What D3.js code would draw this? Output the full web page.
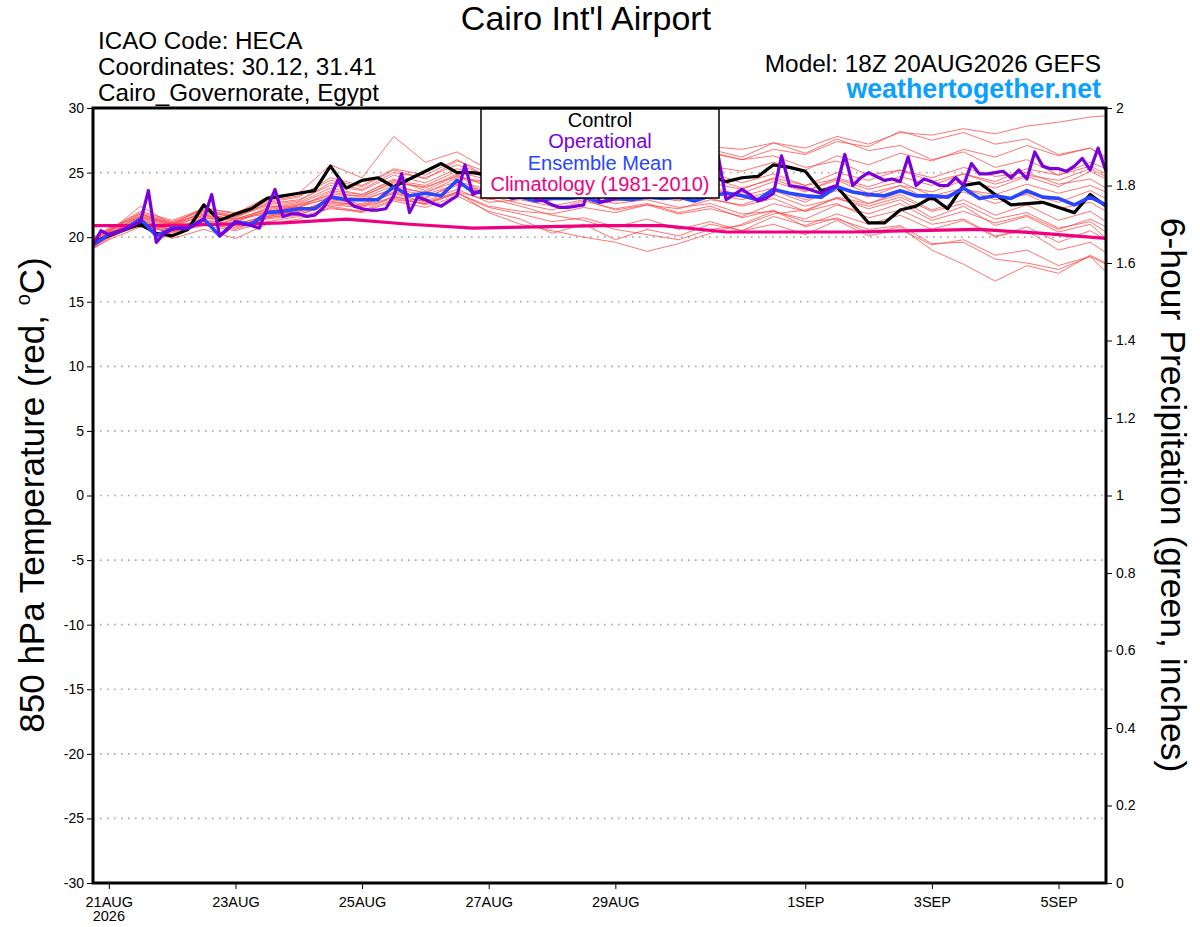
<!DOCTYPE html>
<html>
<head>
<meta charset="utf-8">
<script src="https://cdn.jsdelivr.net/npm/d3@7"></script>
<style>
  body { margin: 0; background: #fff; }
  svg { display: block; font-family: "Liberation Sans", Arial, Helvetica, sans-serif; }
</style>
</head>
<body>
<svg id="chart" width="1200" height="927"></svg>
<script>
// model run start, 18Z 20AUG2026; every step below is 6 hours after it
var runStart = Date.UTC(2026, 7, 20, 18);

var dateTicks = ["2026-08-21", "2026-08-23", "2026-08-25", "2026-08-27", "2026-08-29", "2026-09-01", "2026-09-03", "2026-09-05"];
var dateTickLabels = ["21AUG", "23AUG", "25AUG", "27AUG", "29AUG", "1SEP", "3SEP", "5SEP"];
var tempTicks = [-30, -25, -20, -15, -10, -5, 0, 5, 10, 15, 20, 25, 30];
var gridTemps = [-25, -20, -15, -10, -5, 0, 5, 10, 15, 20, 25];
var precipTicks = [0, 0.2, 0.4, 0.6, 0.8, 1, 1.2, 1.4, 1.6, 1.8, 2];

var legendNames = ["Control", "Operational", "Ensemble Mean", "Climatology (1981-2010)"];

// control run, 6-hourly
var controlTemp = [19.6, 20.1, 20.6, 21.0, 20.3, 20.1, 20.6, 22.5, 21.3, 21.8, 22.2, 23.0, 23.2, 23.4, 23.6, 25.5,
  23.8, 24.4, 24.6, 23.9, 24.5, 25.1, 25.7, 25.0, 25.0, 24.8, 25.2, 25.6, 24.9, 24.6, 24.3, 25.0,
  24.7, 24.4, 24.1, 24.8, 24.5, 24.9, 24.6, 24.8, 24.3, 24.6, 24.7, 25.6, 25.4, 25.1, 23.6, 23.9,
  22.5, 21.1, 21.1, 22.1, 22.4, 23.1, 22.2, 24.0, 24.2, 23.3, 22.5, 22.6, 22.7, 22.3, 21.9, 23.3, 22.4];

// ensemble mean, 6-hourly
var meanTemp = [19.4, 20.2, 20.6, 21.4, 20.1, 20.7, 20.7, 21.4, 20.1, 21.2, 21.0, 21.9, 22.0, 22.2, 22.2, 23.1,
  22.9, 22.9, 22.9, 23.9, 23.2, 23.4, 23.2, 24.4, 23.5, 23.4, 23.2, 23.1, 22.8, 23.0, 23.0, 23.1,
  22.7, 23.0, 22.9, 23.1, 23.0, 23.1, 22.8, 23.2, 23.4, 23.2, 22.9, 23.7, 23.4, 23.2, 23.1, 23.9,
  23.5, 23.3, 23.2, 23.6, 23.2, 23.2, 23.1, 23.8, 23.0, 23.2, 23.0, 23.6, 23.1, 23.0, 22.5, 23.1, 22.5];

// operational run, 3-hourly
var operTemp = [19.4, 20.5, 20.2, 20.4, 20.6, 20.9, 21.2, 23.6, 19.6, 20.3, 20.6, 20.7, 20.7, 21.0, 21.4, 23.3,
  20.1, 20.6, 21.2, 21.0, 20.9, 20.7, 22.2, 23.7, 21.6, 21.8, 21.8, 21.6, 21.7, 22.2, 23.1, 24.5,
  22.9, 22.4, 22.2, 22.1, 22.1, 22.2, 23.2, 24.9, 21.9, 23.1, 22.9, 22.6, 22.4, 22.8, 23.2, 25.6,
  23.3, 23.6, 23.5, 23.4, 23.2, 23.0, 23.1, 24.6, 22.9, 22.8, 22.5, 22.3, 22.3, 22.4, 22.5, 24.8,
  22.7, 22.8, 23.0, 23.2, 23.4, 23.3, 23.4, 25.2, 23.5, 23.4, 23.6, 23.5, 23.3, 23.4, 23.6, 26.3,
  22.9, 23.3, 23.7, 23.3, 22.8, 23.0, 23.4, 26.3, 24.0, 23.9, 23.8, 23.6, 23.4, 23.8, 24.0, 26.4,
  24.0, 24.6, 25.0, 24.7, 24.4, 24.5, 24.3, 26.2, 24.0, 24.5, 24.3, 24.0, 24.0, 24.6, 24.0, 25.7,
  24.9, 24.9, 25.0, 25.1, 24.6, 25.2, 24.5, 26.6, 25.5, 25.3, 25.3, 25.1, 25.5, 26.1, 25.2, 26.9, 25.1];

// climatology, daily (6-hour step numbers)
var climSteps = [0, 4, 8, 12, 16, 20, 24, 28, 32, 36, 40, 44, 48, 52, 56, 60, 64];
var climTemp = [20.9, 20.9, 21.0, 21.1, 21.4, 21.0, 20.7, 20.8, 20.9, 20.9, 20.4, 20.4, 20.4, 20.5, 20.6, 20.3, 19.9];

// ensemble members, 00Z/12Z (6-hour step numbers)
var memberSteps = [0, 1, 3, 5, 7, 9, 11, 13, 15, 17, 19, 21, 23, 25, 27, 29, 31, 33, 35, 37, 39, 41, 43, 45, 47, 49, 51, 53, 55, 57, 59, 61, 63, 64];
var members = [
  [19.8, 20.5, 21.8, 20.9, 22.0, 21.5, 22.6, 22.9, 24.0, 23.6, 24.8, 24.2, 25.3, 24.6, 24.9, 25.4, 25.8, 26.1, 26.6, 26.3, 27.0, 26.8, 27.3, 26.9, 27.8, 27.2, 28.1, 27.9, 28.4, 28.0, 28.6, 28.9, 29.3, 29.4],
  [19.3, 20.0, 21.0, 20.4, 21.1, 20.6, 21.5, 21.8, 22.4, 22.0, 23.2, 22.5, 23.4, 22.3, 21.8, 21.2, 21.5, 20.8, 21.4, 20.6, 21.2, 20.5, 21.0, 20.2, 21.3, 20.1, 20.6, 19.4, 19.8, 18.6, 19.0, 17.8, 18.5, 17.3],
  [19.6, 20.4, 22.4, 21.0, 22.3, 21.8, 23.1, 23.4, 25.6, 24.6, 27.8, 25.8, 26.6, 25.2, 24.8, 24.4, 25.0, 24.3, 24.9, 24.0, 24.6, 23.8, 24.5, 23.6, 24.4, 23.4, 24.0, 22.8, 23.5, 22.6, 23.4, 22.7, 23.6, 23.0],
  [19.1, 19.8, 20.8, 19.9, 20.6, 19.9, 21.0, 21.4, 22.3, 21.9, 22.8, 22.3, 23.2, 22.0, 21.4, 20.3, 21.0, 19.8, 20.6, 20.1, 21.0, 20.5, 21.6, 20.9, 21.8, 21.0, 21.7, 20.6, 21.3, 20.0, 20.8, 19.6, 20.5, 19.8],
  [19.9, 20.6, 21.9, 21.2, 22.1, 21.7, 22.5, 22.8, 24.2, 23.7, 25.0, 24.6, 25.6, 24.8, 25.5, 25.0, 25.9, 25.3, 26.2, 25.6, 26.8, 26.2, 27.3, 26.5, 27.6, 26.7, 27.1, 26.0, 26.6, 25.4, 26.0, 24.8, 25.5, 24.9],
  [19.5, 20.3, 21.3, 20.6, 21.5, 21.3, 22.0, 22.4, 23.0, 22.9, 23.7, 23.3, 24.1, 23.2, 22.6, 22.1, 22.8, 22.2, 22.6, 21.9, 22.4, 21.5, 22.1, 20.8, 21.5, 20.3, 20.8, 19.0, 17.9, 16.6, 17.8, 17.2, 18.6, 18.0],
  [19.2, 20.1, 21.2, 20.5, 21.3, 21.0, 21.7, 22.0, 22.9, 22.6, 23.5, 23.1, 24.0, 23.6, 23.9, 23.4, 23.8, 23.5, 24.1, 23.8, 24.2, 23.7, 24.6, 24.0, 25.0, 24.4, 25.2, 24.6, 25.4, 24.7, 25.0, 24.1, 24.5, 23.8],
  [20.0, 20.7, 21.6, 21.0, 21.9, 21.6, 22.4, 22.3, 23.5, 23.1, 24.3, 23.8, 24.9, 23.0, 22.4, 21.7, 21.3, 20.6, 20.2, 19.8, 20.6, 20.9, 21.8, 22.1, 23.0, 22.4, 23.1, 22.0, 22.6, 21.4, 21.9, 20.7, 21.2, 20.4],
  [19.7, 20.2, 21.5, 20.8, 21.7, 21.4, 21.8, 22.5, 23.3, 23.2, 24.2, 23.9, 24.7, 24.1, 24.6, 24.0, 24.5, 23.9, 24.3, 23.5, 23.9, 23.2, 23.8, 22.9, 23.6, 22.6, 23.3, 22.1, 22.9, 21.7, 22.5, 21.3, 22.0, 21.2],
  [19.4, 20.4, 21.1, 20.3, 21.2, 20.8, 21.6, 22.1, 22.7, 22.5, 23.4, 23.0, 24.2, 23.3, 23.7, 23.9, 24.4, 24.6, 25.3, 24.9, 25.5, 25.1, 25.8, 25.2, 26.3, 25.6, 26.5, 25.9, 26.8, 26.2, 27.1, 26.3, 26.9, 26.0],
  [19.6, 20.1, 21.0, 20.6, 21.0, 20.7, 21.4, 21.7, 22.6, 22.4, 23.1, 22.8, 23.7, 22.7, 22.9, 22.4, 22.9, 22.1, 22.5, 22.2, 22.9, 22.5, 23.3, 22.4, 23.0, 22.2, 22.9, 21.5, 22.4, 20.9, 21.6, 20.4, 21.0, 19.9],
  [19.3, 20.2, 21.7, 21.1, 21.8, 21.4, 22.2, 22.6, 23.6, 23.3, 24.5, 23.6, 24.8, 23.9, 24.2, 23.6, 23.9, 23.4, 23.6, 23.0, 23.4, 22.9, 23.6, 22.7, 23.9, 23.1, 24.0, 23.5, 24.4, 23.8, 24.7, 23.9, 25.1, 24.5],
  [19.5, 20.3, 21.4, 20.7, 21.3, 21.0, 21.6, 22.0, 22.8, 22.4, 23.4, 22.7, 23.5, 21.9, 21.0, 20.5, 20.0, 19.6, 18.9, 19.5, 20.3, 21.0, 22.0, 21.4, 22.5, 21.8, 22.6, 21.3, 22.0, 21.1, 21.7, 20.6, 21.4, 20.8],
  [19.8, 20.5, 21.5, 20.9, 21.6, 21.4, 22.1, 22.5, 23.2, 23.0, 24.0, 23.4, 24.6, 24.3, 24.8, 24.5, 25.1, 24.6, 25.3, 24.8, 25.0, 24.2, 24.9, 24.0, 24.5, 23.7, 24.3, 23.2, 23.8, 22.9, 23.3, 22.2, 22.7, 22.0],
  [19.4, 20.0, 21.3, 20.5, 21.5, 21.1, 22.3, 22.7, 23.8, 23.3, 24.4, 24.0, 25.1, 24.4, 25.0, 24.7, 25.6, 25.2, 26.0, 25.7, 26.5, 26.0, 26.8, 26.4, 27.4, 27.0, 28.2, 27.5, 28.1, 27.2, 27.6, 26.4, 26.9, 26.2],
  [19.1, 19.9, 21.1, 20.2, 21.0, 20.9, 21.5, 21.9, 22.5, 22.3, 23.0, 22.6, 23.4, 22.4, 22.0, 21.8, 22.3, 21.9, 22.5, 21.8, 22.2, 21.6, 22.6, 22.0, 23.1, 22.6, 23.5, 22.9, 23.7, 23.3, 24.1, 23.4, 24.0, 23.5],
  [19.6, 20.4, 21.6, 21.0, 21.7, 21.2, 22.0, 22.3, 23.1, 22.8, 23.8, 23.5, 24.3, 23.7, 23.3, 22.9, 23.2, 22.6, 22.9, 22.3, 22.6, 21.8, 22.0, 21.2, 21.4, 20.6, 20.9, 19.5, 19.6, 18.3, 18.0, 17.5, 18.5, 17.9],
  [19.9, 20.6, 22.0, 21.3, 22.2, 21.9, 22.8, 23.2, 24.4, 23.9, 25.2, 24.5, 25.9, 25.0, 25.7, 25.3, 26.0, 25.6, 26.4, 25.9, 26.6, 26.0, 26.3, 25.4, 25.9, 24.8, 25.2, 24.3, 24.9, 24.1, 24.8, 24.4, 25.3, 24.7],
  [19.2, 20.0, 20.9, 20.4, 20.9, 20.5, 21.2, 21.6, 22.2, 22.0, 22.9, 22.6, 23.5, 22.9, 23.3, 23.0, 23.5, 22.8, 23.2, 22.8, 23.6, 23.4, 24.3, 23.5, 24.6, 23.9, 24.7, 24.0, 24.9, 24.3, 25.3, 24.8, 25.8, 25.3],
  [19.7, 20.5, 21.8, 21.1, 22.1, 21.6, 22.7, 23.1, 24.6, 24.0, 25.3, 24.8, 26.0, 24.6, 24.2, 23.8, 24.0, 23.2, 23.5, 22.9, 23.0, 22.4, 23.0, 22.0, 22.6, 21.5, 22.1, 21.0, 21.4, 20.1, 20.5, 19.0, 19.6, 18.8]
];

var plot = {left: 93, right: 1106, top: 108, bottom: 883};

var svg = d3.select('#chart');

function stepTime(s) {
  return new Date(runStart + s * 6 * 3600 * 1000);
}

var x = d3.scaleUtc()
  .domain([stepTime(0), stepTime(64)])
  .range([plot.left, plot.right]);
var yTemp = d3.scaleLinear().domain([-30, 30]).range([plot.bottom, plot.top]);
var yPrecip = d3.scaleLinear().domain([0, 2]).range([plot.bottom, plot.top]);

// dotted grid
svg.append('g').selectAll('line')
  .data(gridTemps)
  .enter()
  .append('line')
  .attr('x1', plot.left).attr('x2', plot.right)
  .attr('y1', function (d) { return yTemp(d); })
  .attr('y2', function (d) { return yTemp(d); })
  .attr('stroke', '#a8a8a8')
  .attr('stroke-width', 1.6)
  .attr('stroke-dasharray', '1.6,5.4');

function lineFor(steps) {
  return d3.line()
    .x(function (d, i) { return x(stepTime(steps[i])); })
    .y(function (d) { return yTemp(d); });
}

var hourly6 = d3.range(controlTemp.length);
var hourly3 = operTemp.map(function (d, k) { return k / 2; });

// members
svg.append('g').selectAll('path')
  .data(members)
  .enter()
  .append('path')
  .attr('d', lineFor(memberSteps))
  .attr('fill', 'none')
  .attr('stroke', 'rgb(255,70,70)')
  .attr('stroke-opacity', 0.75)
  .attr('stroke-width', 1);

var colors = {control: '#000000', oper: '#7a00dc', mean: '#2846ff', clim: '#f0007f'};

svg.append('path').datum(climTemp)
  .attr('d', lineFor(climSteps))
  .attr('fill', 'none').attr('stroke', colors.clim).attr('stroke-width', 3.2);

svg.append('path').datum(controlTemp)
  .attr('d', lineFor(hourly6))
  .attr('fill', 'none').attr('stroke', colors.control).attr('stroke-width', 3.2)
  .attr('stroke-linejoin', 'round');

svg.append('path').datum(meanTemp)
  .attr('d', lineFor(hourly6))
  .attr('fill', 'none').attr('stroke', colors.mean).attr('stroke-width', 3.6)
  .attr('stroke-linejoin', 'round');

svg.append('path').datum(operTemp)
  .attr('d', lineFor(hourly3))
  .attr('fill', 'none').attr('stroke', colors.oper).attr('stroke-width', 3.2)
  .attr('stroke-linejoin', 'round');

// axes
var parseDay = d3.utcParse('%Y-%m-%d');
var xAxis = d3.axisBottom(x)
  .tickValues(dateTicks.map(parseDay))
  .tickSize(6)
  .tickFormat(function (d, i) { return dateTickLabels[i]; });
var gx = svg.append('g').attr('transform', 'translate(0,' + plot.bottom + ')').call(xAxis);
gx.select('.domain').remove();
gx.selectAll('text').attr('font-size', 14.5).attr('fill', '#000').attr('dy', '1.05em');
gx.selectAll('line').attr('stroke', '#000');
gx.append('text')
  .attr('x', x(parseDay(dateTicks[0]))).attr('y', 38)
  .attr('text-anchor', 'middle').attr('font-size', 14.5).attr('fill', '#000')
  .text(dateTicks[0].slice(0, 4));

var gyL = svg.append('g').attr('transform', 'translate(' + plot.left + ',0)')
  .call(d3.axisLeft(yTemp).tickValues(tempTicks).tickSize(6).tickPadding(3)
    .tickFormat(function (d) { return String(d); }));
gyL.select('.domain').remove();
gyL.selectAll('text').attr('font-size', 14).attr('fill', '#000');

var gyR = svg.append('g').attr('transform', 'translate(' + plot.right + ',0)')
  .call(d3.axisRight(yPrecip).tickValues(precipTicks).tickSize(6).tickPadding(4)
    .tickFormat(function (d) { return String(d); }));
gyR.select('.domain').remove();
gyR.selectAll('text').attr('font-size', 14).attr('fill', '#000');

// frame
svg.append('rect')
  .attr('x', plot.left).attr('y', plot.top)
  .attr('width', plot.right - plot.left).attr('height', plot.bottom - plot.top)
  .attr('fill', 'none').attr('stroke', '#000').attr('stroke-width', 3);

// legend box
var legend = svg.append('g');
legend.append('rect')
  .attr('x', 481).attr('y', 109).attr('width', 238).attr('height', 89)
  .attr('fill', '#fff').attr('stroke', '#000').attr('stroke-width', 1.5);
var legendColors = [colors.control, colors.oper, colors.mean, colors.clim];
legend.selectAll('text')
  .data(legendNames)
  .enter()
  .append('text')
  .attr('x', 600)
  .attr('y', function (d, i) { return 127 + i * 21.3; })
  .attr('text-anchor', 'middle')
  .attr('font-size', 20)
  .attr('fill', function (d, i) { return legendColors[i]; })
  .text(function (d) { return d; });

// titles
svg.append('text').attr('x', 586).attr('y', 30).attr('text-anchor', 'middle')
  .attr('font-size', 34).text("Cairo Int'l Airport");

var info = ['ICAO Code: HECA', 'Coordinates: 30.12, 31.41', 'Cairo_Governorate, Egypt'];
svg.append('g').selectAll('text')
  .data(info)
  .enter()
  .append('text')
  .attr('x', 98)
  .attr('y', function (d, i) { return 48.5 + i * 26; })
  .attr('font-size', 24.2)
  .text(function (d) { return d; });

svg.append('text').attr('x', 1101).attr('y', 71.5).attr('text-anchor', 'end')
  .attr('font-size', 24.4).text('Model: 18Z 20AUG2026 GEFS');
svg.append('text').attr('x', 1101).attr('y', 98).attr('text-anchor', 'end')
  .attr('font-size', 26.8).attr('font-weight', 'bold').attr('fill', '#0aa0ff')
  .text('weathertogether.net');

// axis titles
var yl = svg.append('text').attr('transform', 'translate(44,495) rotate(-90)')
  .attr('text-anchor', 'middle').attr('font-size', 35);
yl.append('tspan').text('850 hPa Temperature (red, ');
yl.append('tspan').attr('font-size', 20).attr('dy', -14).text('o');
yl.append('tspan').attr('dy', 14).text('C)');

svg.append('text').attr('transform', 'translate(1161,495) rotate(90)')
  .attr('text-anchor', 'middle').attr('font-size', 35.5)
  .text('6-hour Precipitation (green, inches)');
</script>
</body>
</html>
